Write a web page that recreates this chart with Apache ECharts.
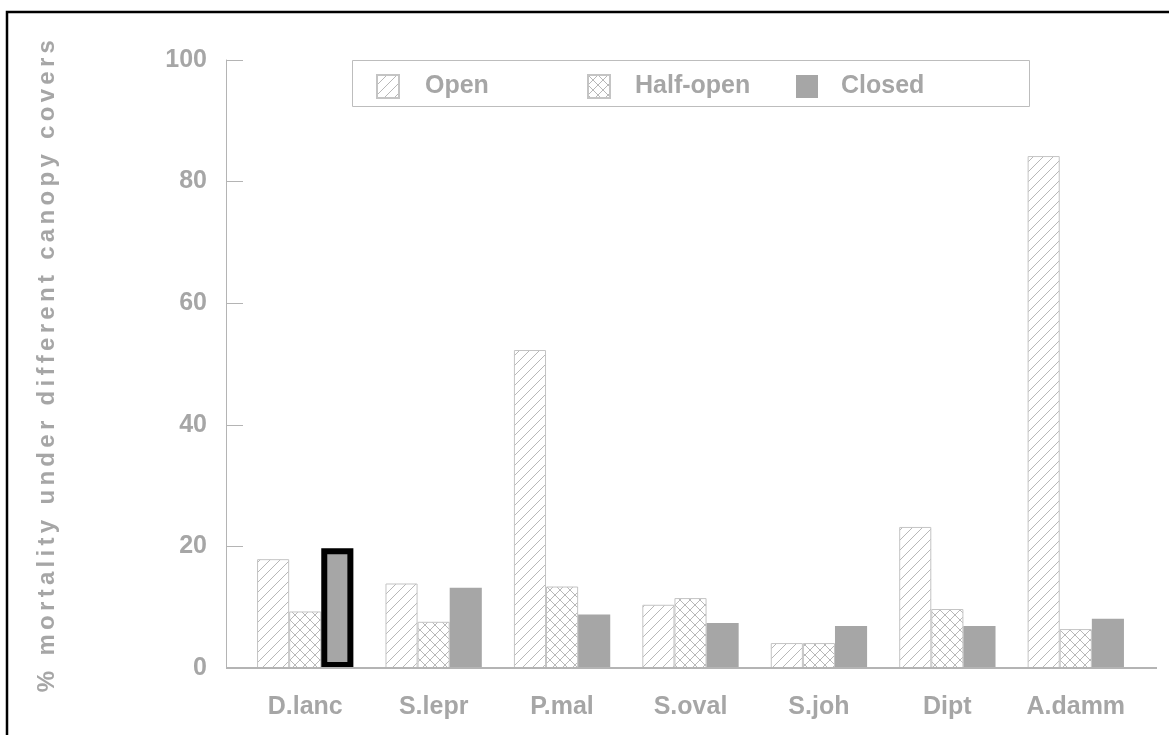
<!DOCTYPE html>
<html><head><meta charset="utf-8">
<script src="https://cdn.jsdelivr.net/npm/echarts@6/dist/echarts.min.js"></script>
<style>html,body{margin:0;padding:0;background:#fff}#c{width:1169px;height:735px}</style>
</head><body><div id="c"></div>
<script>
// ---- data ----
const categories = ['D.lanc', 'S.lepr', 'P.mal', 'S.oval', 'S.joh', 'Dipt', 'A.damm'];
const openValues = [17.9, 13.9, 52.3, 10.4, 4.1, 23.2, 84.2];
const halfOpenValues = [9.3, 7.6, 13.4, 11.5, 4.1, 9.7, 6.4];
const closedValues = [19.7, 13.2, 8.8, 7.4, 6.9, 6.9, 8.1];
const seriesNames = ['Open', 'Half-open', 'Closed'];
const yTicks = [0, 20, 40, 60, 80, 100];
const yTitle = '% mortality under different canopy covers';
const highlightIndex = 0; // closed bar drawn with a heavy outline

// ---- styles ----
const FONT = 'Liberation Sans';
const TXT = '#a6a6a6';
const AXIS = '#b4b4b4';
const GRID = {left: 241, top: 60, width: 899, height: 608};

// letter-spaced axis title only (canvas letterSpacing)
(function () {
  const proto = CanvasRenderingContext2D.prototype;
  const orig = proto.fillText;
  proto.fillText = function (t, x, y, m) {
    const spaced = (t === yTitle) && ('letterSpacing' in this);
    if (spaced) { this.save(); this.letterSpacing = '4.3px'; }
    if (m === undefined) orig.call(this, t, x, y); else orig.call(this, t, x, y, m);
    if (spaced) { this.restore(); }
  };
})();

function makeTile(kind) {
  const s = 10;
  const c = document.createElement('canvas');
  c.width = s; c.height = s;
  const g = c.getContext('2d');
  g.fillStyle = '#ffffff';
  g.fillRect(0, 0, s, s);
  g.strokeStyle = '#b8b8b8';
  g.lineWidth = 1;
  g.beginPath();
  for (let k = -1; k <= 1; k++) {
    g.moveTo(-2 + k * s, s + 2); g.lineTo(s + 2 + k * s, -2);
    if (kind === 'cross') { g.moveTo(-2 + k * s, -2); g.lineTo(s + 2 + k * s, s + 2); }
  }
  g.stroke();
  return c;
}
const hatchOpen = {image: makeTile('diag'), repeat: 'repeat'};
const hatchHalf = {image: makeTile('cross'), repeat: 'repeat'};

const chart = echarts.init(document.getElementById('c'), null, {renderer: 'canvas'});

const legendLeft = [376, 587, 796];
const legendPad = [21, 20, 18];

const option = {
  backgroundColor: '#ffffff',
  animation: false,
  grid: GRID,
  legend: seriesNames.map((n, i) => ({
    data: [n], left: legendLeft[i], top: 74, padding: 0,
    icon: 'rect', itemWidth: 22, itemHeight: 23, selectedMode: false,
    textStyle: {color: TXT, fontSize: 25, fontWeight: 'bold', fontFamily: FONT, padding: [0, 0, 0, legendPad[i]]}
  })),
  xAxis: {
    type: 'category', data: categories,
    axisLine: {show: false}, axisTick: {show: false},
    axisLabel: {color: TXT, fontSize: 25, fontWeight: 'bold', fontFamily: FONT, margin: 27}
  },
  yAxis: {
    type: 'value', min: yTicks[0], max: yTicks[yTicks.length - 1], interval: yTicks[1] - yTicks[0],
    offset: 15,
    axisLine: {show: true, lineStyle: {color: AXIS, width: 1}},
    axisTick: {show: true, inside: true, length: 17, lineStyle: {color: AXIS, width: 1}},
    splitLine: {show: false},
    axisLabel: {color: TXT, fontSize: 25, fontWeight: 'bold', fontFamily: FONT, margin: 19},
    name: yTitle, nameLocation: 'middle', nameRotate: 90, nameGap: 167,
    nameTextStyle: {color: TXT, fontSize: 24, fontWeight: 'bold', fontFamily: FONT}
  },
  series: [
    {
      name: seriesNames[0], type: 'bar', data: openValues,
      barGap: '0%', barCategoryGap: '25%',
      itemStyle: {color: hatchOpen, borderColor: '#c4c4c4', borderWidth: 1}
    },
    {
      name: seriesNames[1], type: 'bar', data: halfOpenValues,
      barGap: '0%', barCategoryGap: '25%',
      itemStyle: {color: hatchHalf, borderColor: '#c4c4c4', borderWidth: 1}
    },
    {
      name: seriesNames[2], type: 'bar',
      data: closedValues.map((v, i) => i === highlightIndex
        ? {value: v, itemStyle: {borderColor: '#000000', borderWidth: 6}}
        : v),
      barGap: '0%', barCategoryGap: '25%',
      itemStyle: {color: '#a6a6a6'}
    }
  ],
  graphic: [
    {type: 'line', z: 10, silent: true,
     shape: {x1: GRID.left - 15, y1: GRID.top + GRID.height, x2: GRID.left + GRID.width + 17, y2: GRID.top + GRID.height},
     style: {stroke: AXIS, lineWidth: 2}},
    {type: 'rect', z: 1, silent: true,
     shape: {x: 352.5, y: 60.5, width: 677, height: 46},
     style: {fill: 'none', stroke: '#bdbdbd', lineWidth: 1}},
    {type: 'rect', z: 20, silent: true,
     shape: {x: 7, y: 12, width: 1300, height: 900},
     style: {fill: 'none', stroke: '#000000', lineWidth: 2.5}}
  ]
};
chart.setOption(option);
</script>
</body></html>
